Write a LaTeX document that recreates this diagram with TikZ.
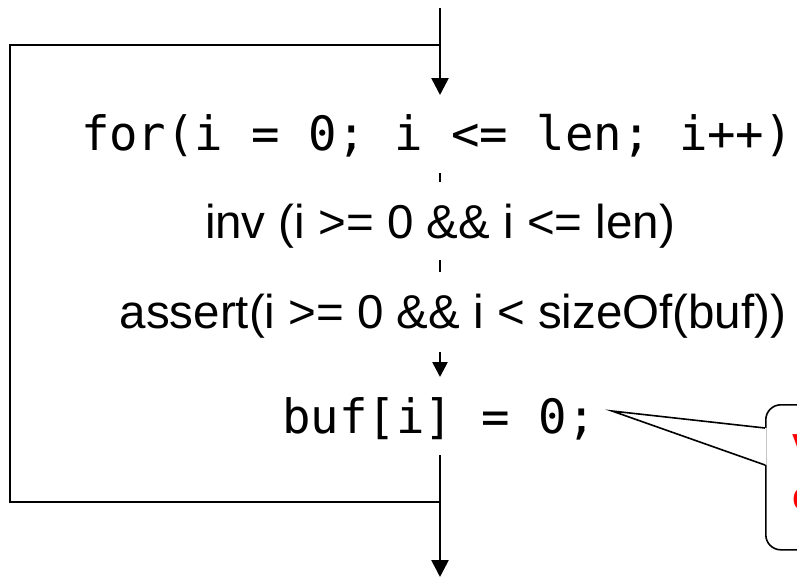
\documentclass[tikz,border=0pt]{standalone}
\usepackage{fontspec}
\setmainfont{Liberation Sans}
\newfontfamily\codefont{DejaVu Sans Mono}
\usetikzlibrary{arrows.meta}
\begin{document}
\begin{tikzpicture}[x=1pt,y=-1pt,
  flow/.style={line width=2.6pt},
  arr/.style={flow,-{Triangle[width=17pt,length=17pt]}},
  smallarr/.style={flow,-{Triangle[width=15pt,length=15pt]}},
  code/.style={anchor=base,inner sep=0pt,font=\codefont\fontsize{47.3}{56}\selectfont},
  ann/.style={anchor=base,inner sep=0pt,font=\fontsize{47.5}{56}\selectfont},
  callout/.style={draw,line width=1.6pt,fill=white,rounded corners=15pt,inner sep=0pt},
  warn/.style={anchor=base west,inner sep=0pt,text=red,font=\bfseries\fontsize{42}{48}\selectfont}
  ]
\useasboundingbox (0,0) rectangle (797,579);
\clip (0,0) rectangle (797,579);

% text nodes
\node[code] (for) at (437,150) {for(i = 0; i <= len; i++)};
\node[ann] (inv) at (440,238) {inv (i >= 0 \&\& i <= len)};
\node[ann] (assert) at (453,328) {assert(i >= 0 \&\& i < sizeOf(buf))};
\node[code] (buf) at (439,433) {buf[i] = 0;};

% connector points
\coordinate (entry) at (440,8);
\coordinate (join) at (440,45);
\coordinate (forin) at (440,95);
\coordinate (forout) at (440,173);
\coordinate (invin) at (440,182);
\coordinate (invout) at (440,260);
\coordinate (assertin) at (440,272);
\coordinate (assertout) at (440,352);
\coordinate (bufin) at (440,377);
\coordinate (bufout) at (440,455);
\coordinate (back) at (440,502);
\coordinate (exit) at (440,577);
\coordinate (tl) at (10,45);
\coordinate (bl) at (10,502);

% main flow
\draw[arr] (entry) -- (forin);
\draw[flow] (forout) -- (invin);
\draw[flow] (invout) -- (assertin);
\draw[smallarr] (assertout) -- (bufin);
\draw[arr] (bufout) -- (exit);
% loop back
\draw[flow] (back) -- (bl) -- (tl) -- (join);

% callout
\node[callout,anchor=north west,minimum width=200pt,minimum height=145pt] (note) at (765,404) {};
\coordinate (tip) at (612,411);
\coordinate (pa) at (765,428);
\coordinate (pb) at (765,465);
\fill[white] ([xshift=1.5pt]pa) -- (tip) -- ([xshift=1.5pt]pb) -- cycle;
\draw[line width=1.6pt,line join=miter] (pa) -- (tip) -- (pb);
\node[warn] (w1) at (792,463) {V};
\node[warn] (w2) at (792,510) {c};
\end{tikzpicture}
\end{document}
